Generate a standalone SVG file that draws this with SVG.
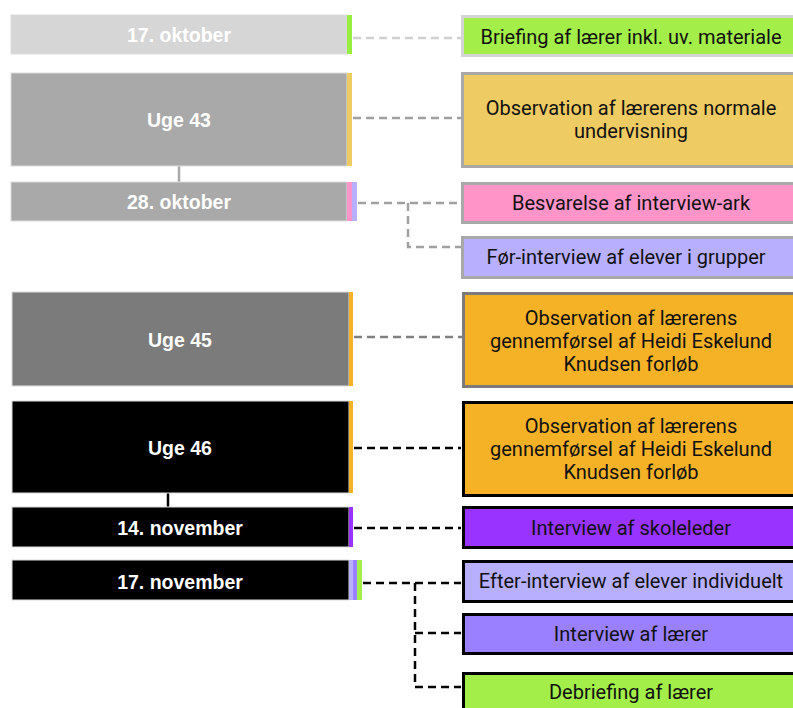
<svg xmlns="http://www.w3.org/2000/svg" width="793" height="708" viewBox="0 0 793 708">
<style>
.lt{font-family:"Liberation Sans",Arial,sans-serif;font-weight:bold;font-size:19.5px;fill:#fff;text-anchor:middle;dominant-baseline:central}
.rt{font-family:Roboto,"Liberation Sans",sans-serif;font-size:20px;fill:#111;text-anchor:middle;dominant-baseline:central}
.lb{stroke:#dcdcdc;stroke-width:1}
.rb{stroke-width:3}
.dash{fill:none;stroke-width:2.5;stroke-dasharray:8 5}
</style>
<rect width="793" height="708" fill="#fff"/>
<g id="connectors">
  <line x1="179" y1="166" x2="179" y2="182" stroke="#a9a9a9" stroke-width="2.5"/>
  <line x1="168" y1="493" x2="168" y2="507" stroke="#000" stroke-width="2.5"/>
  <path class="dash" stroke="#d0d0d0" d="M353 38H461"/>
  <path class="dash" stroke="#a0a0a0" d="M353 118H461"/>
  <path class="dash" stroke="#a0a0a0" d="M358 203H461M408 203V247H461"/>
  <path class="dash" stroke="#808080" d="M354 337H462"/>
  <path class="dash" stroke="#000" d="M354 448H461"/>
  <path class="dash" stroke="#000" d="M354 528H461"/>
  <path class="dash" stroke="#000" d="M363 583H461M415 583V687H461M415 633H461"/>
</g>
<g id="n-17okt">
  <rect class="lb" x="11" y="15" width="336" height="39" fill="#d6d6d6"/>
  <rect x="347" y="15" width="5" height="39" fill="#98ee3f"/>
  <text class="lt" x="179" y="35">17. oktober</text>
</g>
<g id="n-uge43">
  <rect class="lb" x="11" y="73" width="336" height="93" fill="#a9a9a9"/>
  <rect x="347" y="73" width="5" height="93" fill="#efcb63"/>
  <text class="lt" x="179" y="120">Uge 43</text>
</g>
<g id="n-28okt">
  <rect class="lb" x="11" y="182" width="336" height="39" fill="#a9a9a9"/>
  <rect x="347" y="182" width="5" height="39" fill="#ff94c9"/>
  <rect x="352" y="182" width="5" height="39" fill="#b8b0ff"/>
  <text class="lt" x="179" y="202">28. oktober</text>
</g>
<g id="n-uge45">
  <rect class="lb" x="12" y="292" width="337" height="94" fill="#7b7b7b"/>
  <rect x="349" y="292" width="4" height="94" fill="#f5b227"/>
  <text class="lt" x="180" y="340">Uge 45</text>
</g>
<g id="n-uge46">
  <rect class="lb" x="12" y="401" width="337" height="92" fill="#000"/>
  <rect x="349" y="401" width="4" height="92" fill="#f5b227"/>
  <text class="lt" x="180" y="448">Uge 46</text>
</g>
<g id="n-14nov">
  <rect class="lb" x="12" y="507" width="337" height="40" fill="#000"/>
  <rect x="349" y="507" width="4" height="40" fill="#9933ff"/>
  <text class="lt" x="180" y="528">14. november</text>
</g>
<g id="n-17nov">
  <rect class="lb" x="12" y="560" width="337" height="40" fill="#000"/>
  <rect x="349" y="560" width="4" height="40" fill="#b8b0ff"/>
  <rect x="353" y="560" width="4" height="40" fill="#9a80ff"/>
  <rect x="357" y="560" width="5" height="40" fill="#a4ee4a"/>
  <text class="lt" x="180" y="582">17. november</text>
</g>
<g id="r-briefing">
  <rect class="rb" x="462.5" y="16.5" width="340" height="39" fill="#a4ee4a" stroke="#d4d4d4"/>
  <text class="rt" x="631" y="37">Briefing af lærer inkl. uv. materiale</text>
</g>
<g id="r-obs-normal">
  <rect class="rb" x="462.5" y="73.5" width="340" height="93" fill="#efcb63" stroke="#a8a8a8"/>
  <text class="rt" x="631" y="108">Observation af lærerens normale</text>
  <text class="rt" x="631" y="131">undervisning</text>
</g>
<g id="r-besvarelse">
  <rect class="rb" x="462.5" y="183.5" width="340" height="39" fill="#ff94c9" stroke="#a8a8a8"/>
  <text class="rt" x="631" y="203">Besvarelse af interview-ark</text>
</g>
<g id="r-for-interview">
  <rect class="rb" x="462.5" y="237.5" width="340" height="40" fill="#b8b0ff" stroke="#a8a8a8"/>
  <text class="rt" x="626" y="257">Før-interview af elever i grupper</text>
</g>
<g id="r-obs-45">
  <rect class="rb" x="463.5" y="293.5" width="340" height="93" fill="#f5b227" stroke="#7b7b7b"/>
  <text class="rt" x="631" y="318">Observation af lærerens</text>
  <text class="rt" x="631" y="341">gennemførsel af Heidi Eskelund</text>
  <text class="rt" x="631" y="364">Knudsen forløb</text>
</g>
<g id="r-obs-46">
  <rect class="rb" x="463.5" y="402.5" width="340" height="93" fill="#f5b227" stroke="#000"/>
  <text class="rt" x="631" y="426">Observation af lærerens</text>
  <text class="rt" x="631" y="449">gennemførsel af Heidi Eskelund</text>
  <text class="rt" x="631" y="472">Knudsen forløb</text>
</g>
<g id="r-skoleleder">
  <rect class="rb" x="463.5" y="507.5" width="340" height="40" fill="#9933ff" stroke="#000"/>
  <text class="rt" x="631" y="528">Interview af skoleleder</text>
</g>
<g id="r-efter">
  <rect class="rb" x="463.5" y="561.5" width="340" height="40" fill="#b8b0ff" stroke="#000"/>
  <text class="rt" x="631" y="581">Efter-interview af elever individuelt</text>
</g>
<g id="r-laerer">
  <rect class="rb" x="463.5" y="614.5" width="340" height="39" fill="#9a80ff" stroke="#000"/>
  <text class="rt" x="631" y="634">Interview af lærer</text>
</g>
<g id="r-debriefing">
  <rect class="rb" x="463.5" y="673.5" width="340" height="40" fill="#a4ee4a" stroke="#000"/>
  <text class="rt" x="631" y="692">Debriefing af lærer</text>
</g>
</svg>
